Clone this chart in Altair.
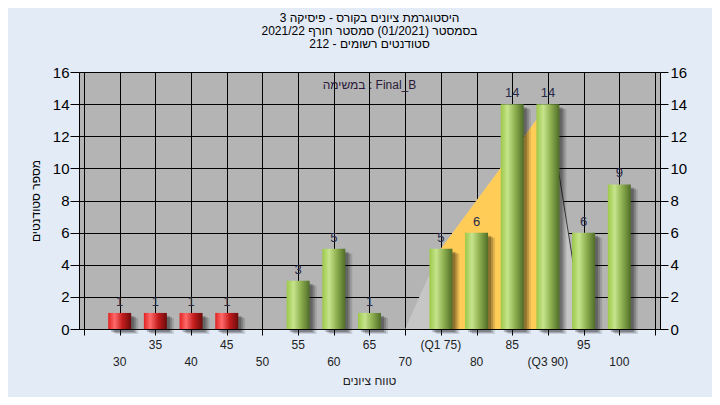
import altair as alt
import pandas as pd

# ---- data ----
grades = [30, 35, 40, 45, 50, 55, 60, 65, 70, 75, 80, 85, 90, 95, 100]
counts = [1, 1, 1, 1, 0, 3, 5, 1, 0, 5, 6, 14, 14, 6, 9]
tick_labels = ["30", "35", "40", "45", "50", "55", "60", "65", "70",
               "(Q1 75)", "80", "85", "(Q3 90)", "95", "100"]
pass_grade = 55

shape_x = [70, 75, 90, 95]
shape_y = [0, 5, 14, 0]
iqr_x = [75, 90]
iqr_y = [5, 14]
drop_x = [90, 95]
drop_y = [14, 0]

title_lines = ["היסטוגרמת ציונים בקורס - פיסיקה 3",
               "בסמסטר  (01/2021)  סמסטר חורף 2021/22",
               "סטודנטים רשומים - 212"]
task_text = "במשימה : Final_B"
x_title = "טווח ציונים"
y_title = "מספר סטודנטים"

FONT = "Liberation Sans"
W, H = 581, 257

bars = pd.DataFrame({"grade": grades, "count": counts,
                     "row": [i % 2 for i in range(len(grades))],
                     "label": tick_labels})
bars["pass"] = bars["grade"] >= pass_grade
shape = pd.DataFrame({"x": shape_x, "y": shape_y})
iqr = pd.DataFrame({"x": iqr_x, "y": iqr_y})
drop = pd.DataFrame({"x": drop_x, "y": drop_y})

xs = alt.Scale(domain=[25, 105], nice=False, zero=False)
ys = alt.Scale(domain=[0, 16], nice=False)

x_axis = alt.Axis(values=list(range(25, 106, 5)), labels=False, title=None,
                  tickSize=6, tickColor="black", domainColor="black",
                  grid=True, gridColor="black", gridOpacity=1, gridWidth=1)
y_left = alt.Axis(values=list(range(0, 17, 2)), grid=True, gridColor="black",
                  gridOpacity=1, tickSize=9, tickColor="black", domainColor="black",
                  labelFont=FONT, labelFontSize=15, labelColor="black", labelPadding=1,
                  title=y_title, titleFont=FONT, titleFontSize=12,
                  titleFontWeight="normal", titleColor="black",
                  titleX=-44, titleY=H / 2, titleAngle=270,
                  titleAlign="center", titleBaseline="middle")
y_right = alt.Axis(values=list(range(0, 17, 2)), orient="right", grid=False,
                   tickSize=8, tickColor="black", domainColor="black",
                   labelFont=FONT, labelFontSize=15, labelColor="black",
                   labelPadding=2, title=None)

base_shape = alt.Chart(shape).mark_area(color="#c6c6c6", opacity=1).encode(
    x=alt.X("x:Q", scale=xs, axis=x_axis),
    y=alt.Y("y:Q", scale=ys, axis=y_left),
)
iqr_area = alt.Chart(iqr).mark_area(color="#ffcc58", opacity=1).encode(
    x=alt.X("x:Q", scale=xs, axis=None),
    y=alt.Y("y:Q", scale=ys, axis=None),
)
drop_line = alt.Chart(drop).mark_line(color="#3a3a3a", strokeWidth=1).encode(
    x=alt.X("x:Q", scale=xs, axis=None),
    y=alt.Y("y:Q", scale=ys, axis=None),
)

bar_base = alt.Chart(bars).transform_filter("datum.count > 0")

shadows = [
    bar_base.mark_bar(color="black", opacity=op, size=23, xOffset=dx, yOffset=dy).encode(
        x=alt.X("grade:Q", scale=xs, axis=None),
        y=alt.Y("count:Q", scale=ys, axis=None),
    )
    for dx, dy, op in [(3, 3, 0.22), (5, 4, 0.18), (7, 5, 0.12)]
]

green = alt.Gradient(gradient="linear", x1=0, x2=1, y1=0, y2=0, stops=[
    alt.GradientStop(color="#9cc848", offset=0),
    alt.GradientStop(color="#c6e48c", offset=0.3),
    alt.GradientStop(color="#8fb050", offset=0.62),
    alt.GradientStop(color="#4f6d28", offset=1),
])
red = alt.Gradient(gradient="linear", x1=0, x2=1, y1=0, y2=0, stops=[
    alt.GradientStop(color="#e02222", offset=0),
    alt.GradientStop(color="#ff6a6a", offset=0.28),
    alt.GradientStop(color="#c41c1c", offset=0.62),
    alt.GradientStop(color="#6c0c0c", offset=1),
])

green_bars = bar_base.transform_filter("datum.pass").mark_bar(color=green, size=23).encode(
    x=alt.X("grade:Q", scale=xs, axis=None),
    y=alt.Y("count:Q", scale=ys, axis=None),
)
red_bars = bar_base.transform_filter("!datum.pass").mark_bar(color=red, size=23).encode(
    x=alt.X("grade:Q", scale=xs, axis=None),
    y=alt.Y("count:Q", scale=ys, axis=None),
)
values = bar_base.mark_text(dy=-11, baseline="middle", font=FONT, fontSize=13,
                            color="#2a2a48").encode(
    x=alt.X("grade:Q", scale=xs, axis=None),
    y=alt.Y("count:Q", scale=ys, axis=y_right),
    text="count:Q",
)

upper = alt.Chart(bars).transform_filter("datum.row == 1").mark_text(
    font=FONT, fontSize=12, color="#222222", baseline="middle").encode(
    x=alt.X("grade:Q", scale=xs, axis=None), y=alt.value(H + 16), text="label:N")
lower = alt.Chart(bars).transform_filter("datum.row == 0").mark_text(
    font=FONT, fontSize=12, color="#222222", baseline="middle").encode(
    x=alt.X("grade:Q", scale=xs, axis=None), y=alt.value(H + 33), text="label:N")

xt = alt.Chart(pd.DataFrame({"t": [x_title]})).mark_text(
    font=FONT, fontSize=12, color="#222222", baseline="middle").encode(
    x=alt.value(W / 2), y=alt.value(H + 52), text="t:N")
task = alt.Chart(pd.DataFrame({"t": [task_text]})).mark_text(
    font=FONT, fontSize=12, color="#2a1a3a", baseline="middle").encode(
    x=alt.value(W / 2), y=alt.value(13), text="t:N")

chart = alt.layer(
    base_shape, iqr_area, drop_line, *shadows, red_bars, green_bars, values,
    upper, lower, xt, task,
).resolve_axis(y="independent", x="independent").properties(
    width=W, height=H,
    title=alt.TitleParams(text=title_lines, anchor="middle", font=FONT, fontSize=12,
                          fontWeight="normal", color="black", lineHeight=13, offset=14),
    autosize=alt.AutoSizeParams(type="none"),
    padding={"left": 71, "top": 64, "right": 52, "bottom": 68},
    background="#e3ebf7",
).configure_view(fill="#b4b4b4", stroke=None)

chart.save("out.html", embed_options={"renderer": "svg", "actions": False})
